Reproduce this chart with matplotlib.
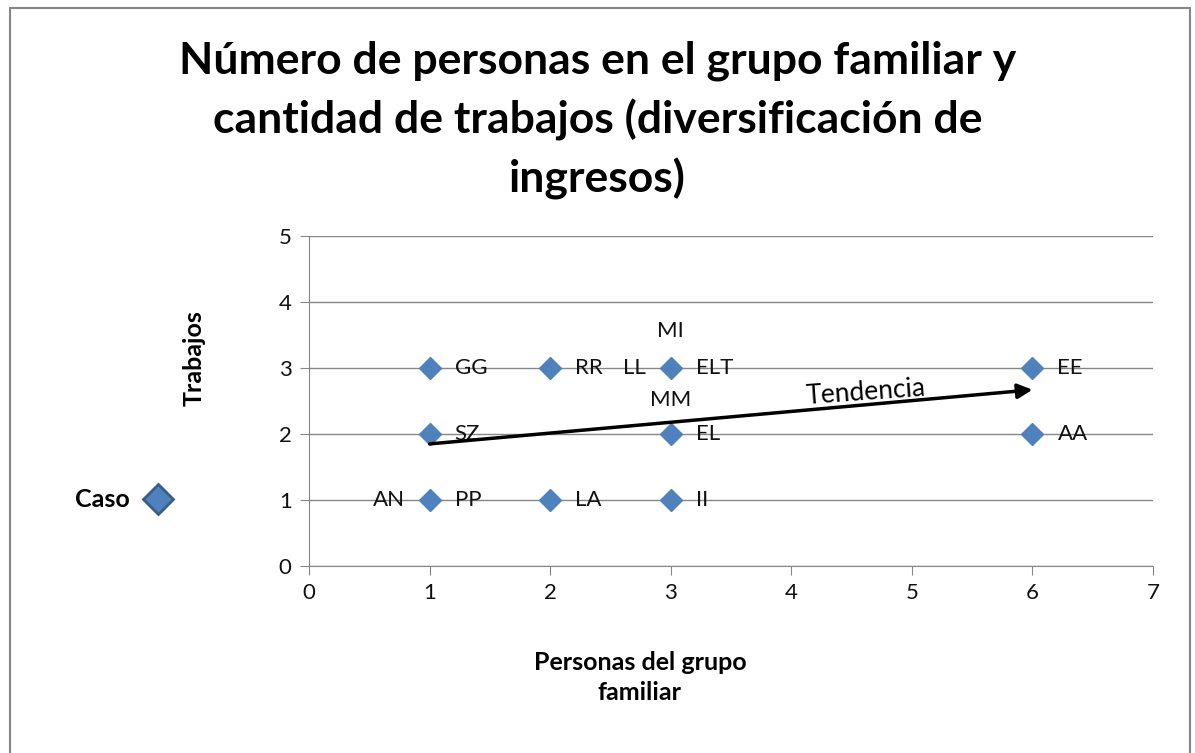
import matplotlib
matplotlib.use('Agg')
import matplotlib.pyplot as plt
from matplotlib.lines import Line2D
from matplotlib.patches import Rectangle

plt.rcParams['font.family'] = ['Lato', 'DejaVu Sans']

# ---- data ----
case_x = [1, 2, 3, 6, 1, 3, 6, 1, 2, 3]
case_y = [3, 3, 3, 3, 2, 2, 2, 1, 1, 1]

# labels: text, anchor point, side of the marker
label_text = ['GG', 'RR', 'ELT', 'LL', 'MI', 'MM', 'EE', 'SZ', 'EL', 'AA', 'AN', 'PP', 'LA', 'II']
label_x = [1, 2, 3, 3, 3, 3, 6, 1, 3, 6, 1, 1, 2, 3]
label_y = [3, 3, 3, 3, 3, 3, 3, 2, 2, 2, 1, 1, 1, 1]
label_side = ['r', 'r', 'r', 'l', 'a', 'b', 'r', 'r', 'r', 'r', 'l', 'r', 'r', 'r']

trend_start = (1, 1.85)
trend_end = (6, 2.67)

BLUE = '#4F81BD'

fig = plt.figure(figsize=(11.95, 7.53), dpi=100)
fig.patches.append(Rectangle((0.008, -0.05), 0.988, 1.04, transform=fig.transFigure,
                             fill=False, edgecolor='#868686', linewidth=1.5))

ax = fig.add_axes([0.2586, 0.2483, 0.7063, 0.4383])
ax.plot(case_x, case_y, linestyle='none', marker='D', markersize=11,
        color=BLUE, markeredgecolor=BLUE, zorder=3, clip_on=False)

offsets = {'r': ((18, 0), 'left', 'center'),
           'l': ((-18, 0), 'right', 'center'),
           'a': ((0, 27), 'center', 'center'),
           'b': ((0, -23), 'center', 'center')}
for t, x, y, s in zip(label_text, label_x, label_y, label_side):
    off, ha, va = offsets[s]
    ax.annotate(t, (x, y), xytext=off, textcoords='offset points',
                ha=ha, va=va, fontsize=16, color='#111111', zorder=4)

# trend arrow
ax.annotate('', xy=trend_end, xytext=trend_start,
            arrowprops=dict(arrowstyle='-|>', color='black', lw=2.5,
                            mutation_scale=22, shrinkA=0, shrinkB=0), zorder=5)
ax.text(4.13, 2.45, 'Tendencia', rotation=4, fontsize=19, ha='left',
        va='baseline', rotation_mode='anchor', zorder=5)

ax.set_xlim(0, 7)
ax.set_ylim(0, 5)
ax.set_xticks(range(0, 8))
ax.set_yticks(range(0, 6))
ax.grid(axis='y', color='#868686', linewidth=1)
ax.set_axisbelow(True)
for sp in ['top', 'right']:
    ax.spines[sp].set_visible(False)
for sp in ['left', 'bottom']:
    ax.spines[sp].set_color('#868686')
ax.tick_params(axis='both', direction='out', length=6.5, color='#868686',
               labelsize=16, pad=6, labelcolor='#111111')

ax.set_ylabel('Trabajos', fontsize=18, fontweight='bold')
ax.yaxis.set_label_coords(-0.122, 0.63)
ax.set_xlabel('Personas del grupo\nfamiliar', fontsize=18, fontweight='bold',
              linespacing=1.35)
ax.xaxis.set_label_coords(0.392, -0.258)
ax.xaxis.label.set_va('top')

fig.text(0.5, 0.84, 'Número de personas en el grupo familiar y\n'
         'cantidad de trabajos (diversificación de\ningresos)',
         ha='center', va='center', fontsize=32, fontweight='bold', linespacing=1.5)

# legend
leg_handle = Line2D([], [], linestyle='none', marker='D', markersize=15,
                    color=BLUE, markeredgecolor='#385D8A', markeredgewidth=2)
fig.legend([leg_handle], ['Caso'], loc='center left', bbox_to_anchor=(0.0628, 0.336),
           frameon=False, markerfirst=False, handletextpad=0.12,
           borderpad=0, borderaxespad=0,
           prop={'size': 18, 'weight': 'bold'})

fig.savefig('out.png', dpi=100)
